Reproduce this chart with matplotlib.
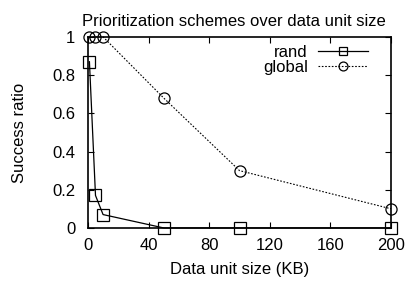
import matplotlib
matplotlib.use('Agg')
import matplotlib.pyplot as plt

plt.rcParams['font.family'] = ['Liberation Sans', 'DejaVu Sans']

sizes = [1, 5, 10, 50, 100, 200]
rand = [0.87, 0.17, 0.07, 0.0, 0.0, 0.0]
glob = [1.0, 1.0, 1.0, 0.68, 0.30, 0.10]
xticks = [0, 40, 80, 120, 160, 200]
yticks = [0, 0.2, 0.4, 0.6, 0.8, 1]
ylabels = ['0', '0.2', '0.4', '0.6', '0.8', '1']

fig = plt.figure(figsize=(4.07, 2.86), dpi=100)
ax = fig.add_axes([0.216, 0.203, 0.745, 0.668])

ax.plot(sizes, rand, color='black', lw=0.9, marker='s', ms=8,
        mfc='none', mec='black', mew=0.9, label='rand', clip_on=False)
ax.plot(sizes, glob, color='black', lw=0.8, ls=(0, (1.5, 1.5)), marker='o', ms=8,
        mfc='none', mec='black', mew=0.9, label='global', clip_on=False)

ax.set_xlim(0, 200)
ax.set_ylim(0, 1)
ax.set_xticks(xticks)
ax.set_yticks(yticks)
ax.set_yticklabels(ylabels)
ax.tick_params(direction='in', top=True, right=True, length=4, width=0.8,
               labelsize=12, pad=7)
ax.tick_params(axis='y', pad=9)
for s in ax.spines.values():
    s.set_linewidth(1.2)

ax.set_xlabel('Data unit size (KB)', fontsize=12, labelpad=7)
ax.set_ylabel('Success ratio', fontsize=12, labelpad=18)
ax.set_title('Prioritization schemes over data unit size', fontsize=12, pad=8,
             x=0.48)

ax.legend(loc='upper right', bbox_to_anchor=(0.95, 1.0), frameon=False,
          markerfirst=False, fontsize=12, handlelength=3.0, borderaxespad=0.1,
          labelspacing=0.0, handletextpad=0.6, markerscale=0.8)

fig.savefig('out.png', dpi=100)
